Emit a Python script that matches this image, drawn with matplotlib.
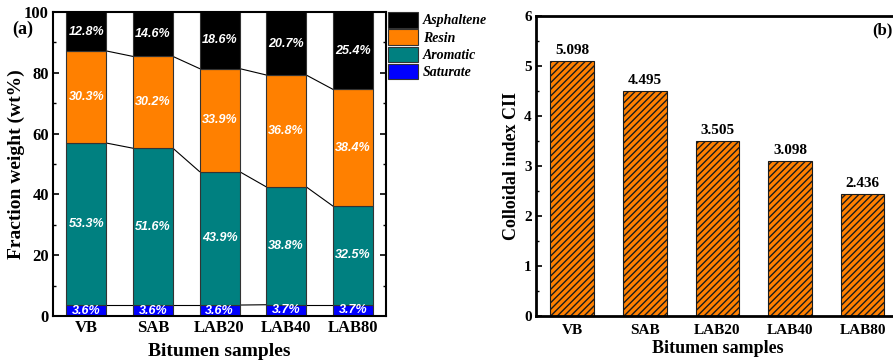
import numpy as np
import matplotlib
matplotlib.use("Agg")
import matplotlib.pyplot as plt
from matplotlib.ticker import MultipleLocator

samples = ["VB", "SAB", "LAB20", "LAB40", "LAB80"]
saturate = [3.6, 3.6, 3.6, 3.7, 3.7]
aromatic = [53.3, 51.6, 43.9, 38.8, 32.5]
resin = [30.3, 30.2, 33.9, 36.8, 38.4]
asphaltene = [12.8, 14.6, 18.6, 20.7, 25.4]
cii = [5.098, 4.495, 3.505, 3.098, 2.436]

serif = "Liberation Serif"
sans = "Liberation Sans"
plt.rcParams["font.family"] = serif
plt.rcParams["hatch.linewidth"] = 1.0
plt.rcParams["hatch.color"] = "#1a1a1a"

fig = plt.figure(figsize=(8.93, 3.64), dpi=100)
ax1 = fig.add_axes([0.0594, 0.1319, 0.3729, 0.835])
ax2 = fig.add_axes([0.6002, 0.1319, 0.4065, 0.824])

x = np.arange(1, len(samples) + 1)
w = 0.6

# (a) stacked fractions
layers = [("Saturate", saturate, "#0000FF"),
          ("Aromatic", aromatic, "#008080"),
          ("Resin", resin, "#FF8000"),
          ("Asphaltene", asphaltene, "#000000")]
bottom = np.zeros(len(samples))
handles = []
for name, vals, col in layers:
    vals = np.array(vals)
    b = ax1.bar(x, vals, w, bottom=bottom, color=col, edgecolor="#333333",
                linewidth=0.8, label=name, zorder=2)
    handles.append(b)
    for xi, bi, v in zip(x, bottom, vals):
        ax1.text(xi, bi + v / 2, f"{v:.1f}%", color="white", ha="center",
                 va="center", fontsize=9, fontweight="bold", style="italic",
                 family=sans, zorder=3)
    top = bottom + vals
    if name != "Asphaltene":
        for i in range(len(x) - 1):
            ax1.plot([x[i] + w / 2, x[i + 1] - w / 2], [top[i], top[i + 1]],
                     color="black", lw=0.8, zorder=1)
    bottom = top

ax1.set_xlim(0.5, 5.5)
ax1.set_ylim(0, 100)
ax1.set_xticks(x)
ax1.set_xticklabels(samples)
ax1.yaxis.set_major_locator(MultipleLocator(20))
ax1.yaxis.set_minor_locator(MultipleLocator(10))
ax1.set_ylabel("Fraction weight (wt%)", fontsize=14, fontweight="bold", labelpad=-1)
ax1.set_xlabel("Bitumen samples", fontsize=14, fontweight="bold", labelpad=5)
leg = ax1.legend(handles[::-1], [l[0] for l in layers][::-1],
                 loc="upper left", bbox_to_anchor=(1.005, 1.0), frameon=False,
                 borderaxespad=0, borderpad=0, handlelength=2.2, handleheight=1.35,
                 labelspacing=0.12, handletextpad=0.35,
                 prop={"family": serif, "weight": "bold", "style": "italic", "size": 10})
fig.text(12 / 893, 1 - 29 / 364, "(a)", fontsize=13, fontweight="bold",
         ha="left", va="center")

# (b) colloidal index
ax2.bar(x, cii, w, color="#FF8000", edgecolor="#1a1a1a", linewidth=0.8,
        hatch="/////", zorder=2)
for xi, v in zip(x, cii):
    ax2.text(xi, v + 0.08, f"{v:.3f}", ha="center", va="bottom",
             fontsize=11, fontweight="bold")
ax2.set_xlim(0.5, 5.5)
ax2.set_ylim(0, 6)
ax2.set_xticks(x)
ax2.set_xticklabels(samples)
ax2.yaxis.set_major_locator(MultipleLocator(1))
ax2.yaxis.set_minor_locator(MultipleLocator(0.5))
ax2.set_ylabel("Colloidal index CII", fontsize=13, fontweight="bold", labelpad=3)
ax2.set_xlabel("Bitumen samples", fontsize=13, fontweight="bold", labelpad=2)
ax2.text(0.926, 0.953, "(b)", transform=ax2.transAxes, fontsize=12,
         fontweight="bold", ha="left", va="center")

for ax, lw in ((ax1, 1.5), (ax2, 2.0)):
    for s in ax.spines.values():
        s.set_linewidth(lw)
    ax.tick_params(which="both", direction="in", top=True, right=True,
                   labelsize=12, pad=3)
    ax.tick_params(which="major", length=4, width=1.2)
    ax.tick_params(which="minor", length=2.5, width=1.0)
    ax.tick_params(axis="x", which="both", top=False, bottom=False)
    for lab in ax.get_xticklabels() + ax.get_yticklabels():
        lab.set_fontweight("bold")
ax2.tick_params(labelsize=11)
ax2.tick_params(axis="x", pad=6)

fig.savefig("out.png", dpi=100)
